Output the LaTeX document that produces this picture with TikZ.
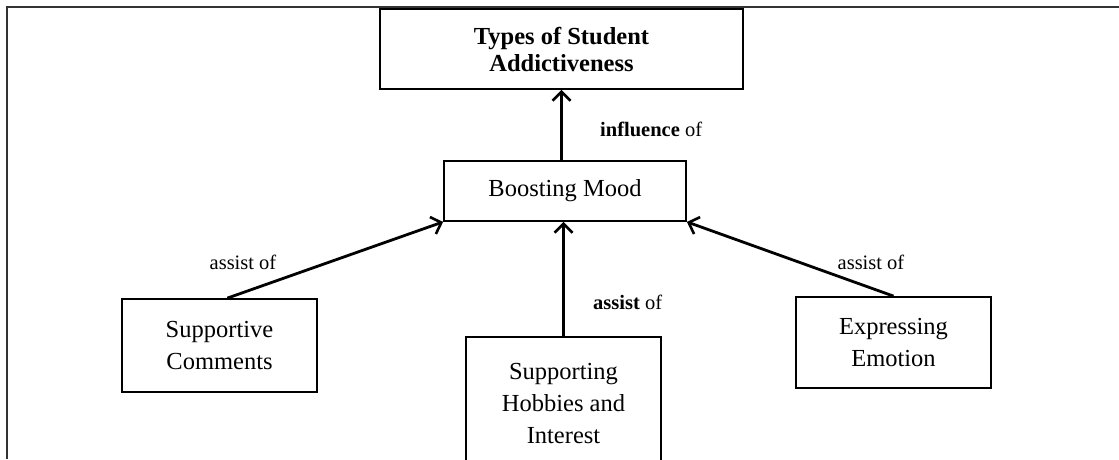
\documentclass[tikz,border=0pt]{standalone}
\usepackage{fontspec}
\setmainfont{Liberation Serif}
\usetikzlibrary{arrows.meta,calc}
\begin{document}
\begin{tikzpicture}[x=1pt,y=-1pt,
  box/.style={draw=black,line width=1.8pt,rectangle,align=center,inner sep=0pt,
    font=\fontsize{24.5}{32}\selectfont},
  lbl/.style={font=\fontsize{20.5}{24}\selectfont,inner sep=0pt},
  arr/.style={line width=2.8pt,-{Straight Barb[length=9pt,width=18pt,line width=2.6pt]}}]
\useasboundingbox (0,0) rectangle (1119,459);
\draw[line width=2.2pt,black!80] (7,459) -- (7,7) -- (1119,7);
\node[box,minimum width=363pt,minimum height=80pt,font=\fontsize{24.5}{27}\selectfont\bfseries] (top) at (561.5,49) {Types of Student\\Addictiveness};
\node[box,minimum width=242pt,minimum height=60pt] (boost) at (565,191) {Boosting Mood};
\node[box,minimum width=195pt,minimum height=93pt] (sup) at (219.5,345.5) {Supportive\\Comments};
\node[box,minimum width=195pt,minimum height=133pt] (hob) at (563.5,403.5) {Supporting\\Hobbies and\\Interest};
\node[box,minimum width=195pt,minimum height=91pt] (exp) at (893.5,342.5) {Expressing\\Emotion};
\draw[arr] (boost.north -| top.south) -- (top.south);
\draw[arr] (hob.north) -- (hob.north |- boost.south);
\draw[arr] ($(sup.north west)!0.54!(sup.north east)$) -- (boost.south west);
\draw[arr] (exp.north) -- (boost.south east);
\node[lbl,anchor=west] (l1) at (600,129) {\textbf{influence} of};
\node[lbl] (l2) at (243,262) {assist of};
\node[lbl,anchor=west] (l3) at (593,302) {\textbf{assist} of};
\node[lbl] (l4) at (871,262) {assist of};
\end{tikzpicture}
\end{document}
